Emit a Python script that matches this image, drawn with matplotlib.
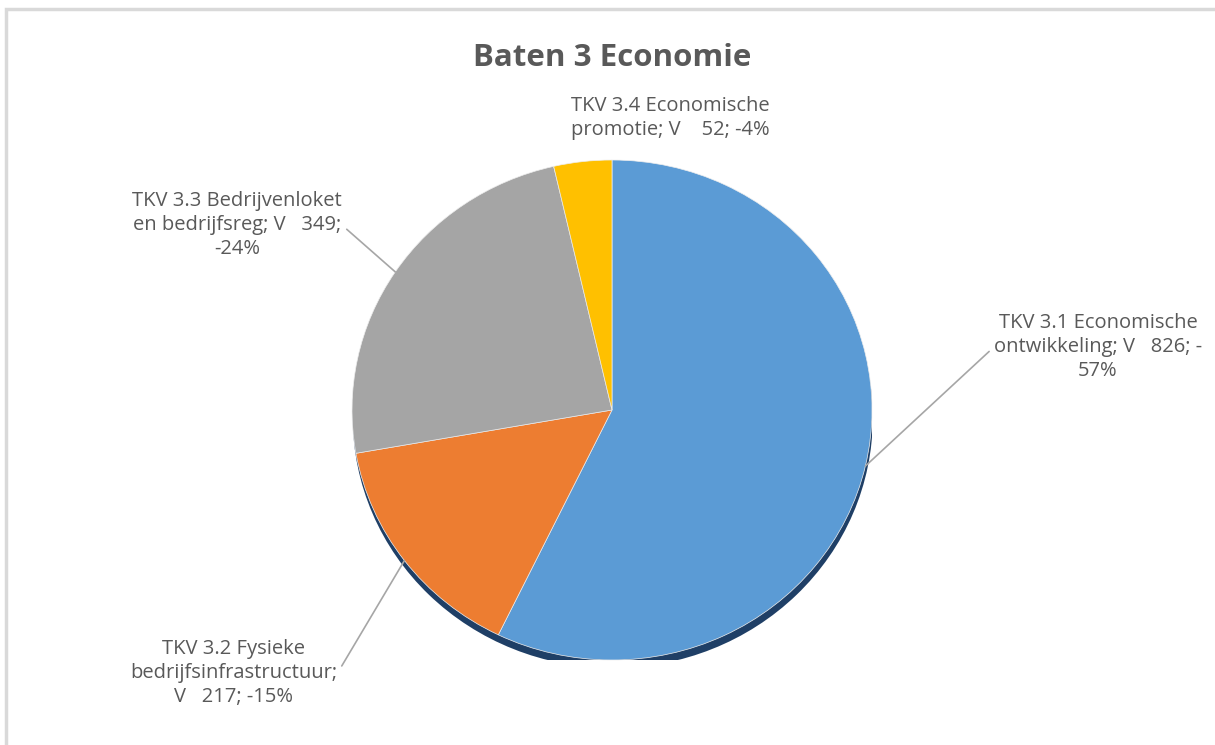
import matplotlib.pyplot as plt
from matplotlib.patches import Ellipse, Rectangle
import numpy as np

W, H = 1215, 745

categories = [
    'TKV 3.1 Economische ontwikkeling',
    'TKV 3.2 Fysieke bedrijfsinfrastructuur',
    'TKV 3.3 Bedrijvenloket en bedrijfsreg',
    'TKV 3.4 Economische promotie',
]
values = [826, 217, 349, 52]
colors = ['#5B9BD5', '#ED7D31', '#A5A5A5', '#FFC000']

# label text per slice, wrapped the way the chart shows it
label_lines = [
    ['TKV 3.1 Economische', 'ontwikkeling; V   {v}; -', '{p}%'],
    ['TKV 3.2 Fysieke', 'bedrijfsinfrastructuur;', 'V   {v}; -{p}%'],
    ['TKV 3.3 Bedrijvenloket', 'en bedrijfsreg; V   {v};', '-{p}%'],
    ['TKV 3.4 Economische', 'promotie; V    {v}; -{p}%'],
]
# label centres in pixels (x from left, y from top) and where the leader leaves the text box
label_pos = [(1098, 347), (234, 673), (237, 225), (670, 118)]
leader_rel = [(0.0, 0.5), (1.0, 0.5), (1.0, 0.5), None]

TEXT = '#595959'
FONT = ['Open Sans', 'DejaVu Sans']

fig = plt.figure(figsize=(W / 100, H / 100), dpi=100)
fig.patch.set_facecolor('white')

# thin chart-area frame
fig.add_artist(Rectangle((6 / W, -0.05), 1.1, (H - 9) / H + 0.05, transform=fig.transFigure,
                         facecolor='none', edgecolor='#D9D9D9', linewidth=2.5))

cx, cy, rx, ry = 612, 410, 260, 250
ax = fig.add_axes([(cx - rx) / W, (H - cy - ry) / H, 2 * rx / W, 2 * ry / H])

# dark rim under the pie
ax.add_patch(Ellipse((0.003, -0.032), 2.0, 2.0, facecolor='#1F3F66', edgecolor='none', zorder=0))

wedges, _ = ax.pie(values, colors=colors, startangle=90, counterclock=False,
                   wedgeprops={'linewidth': 0.5, 'edgecolor': '#EEEEEE', 'zorder': 1})
ax.set_aspect('auto')
ax.set_xlim(-1, 1)
ax.set_ylim(-1, 1)
ax.axis('off')

total = sum(values)
for w, v, lines, (px, py), rel in zip(wedges, values, label_lines, label_pos, leader_rel):
    pct = round(v / total * 100)
    text = '\n'.join(lines).format(v=v, p=pct)
    mid = np.deg2rad((w.theta1 + w.theta2) / 2)
    edge = (np.cos(mid), np.sin(mid))
    arrow = None
    if rel is not None:
        arrow = dict(arrowstyle='-', color='#A6A6A6', linewidth=1.2, relpos=rel,
                     shrinkA=2, shrinkB=0)
    ax.annotate(text, xy=edge, xycoords='data',
                xytext=(px / W, 1 - py / H), textcoords='figure fraction',
                ha='center', va='center', multialignment='center',
                fontsize=14.5, color=TEXT, family=FONT, linespacing=1.25,
                arrowprops=arrow, annotation_clip=False)

fig.text(cx / W, 1 - 58 / H, 'Baten 3 Economie', ha='center', va='center',
         fontsize=22.5, fontweight='bold', color=TEXT, family=FONT)

fig.savefig('out.png', dpi=100, facecolor='white')
